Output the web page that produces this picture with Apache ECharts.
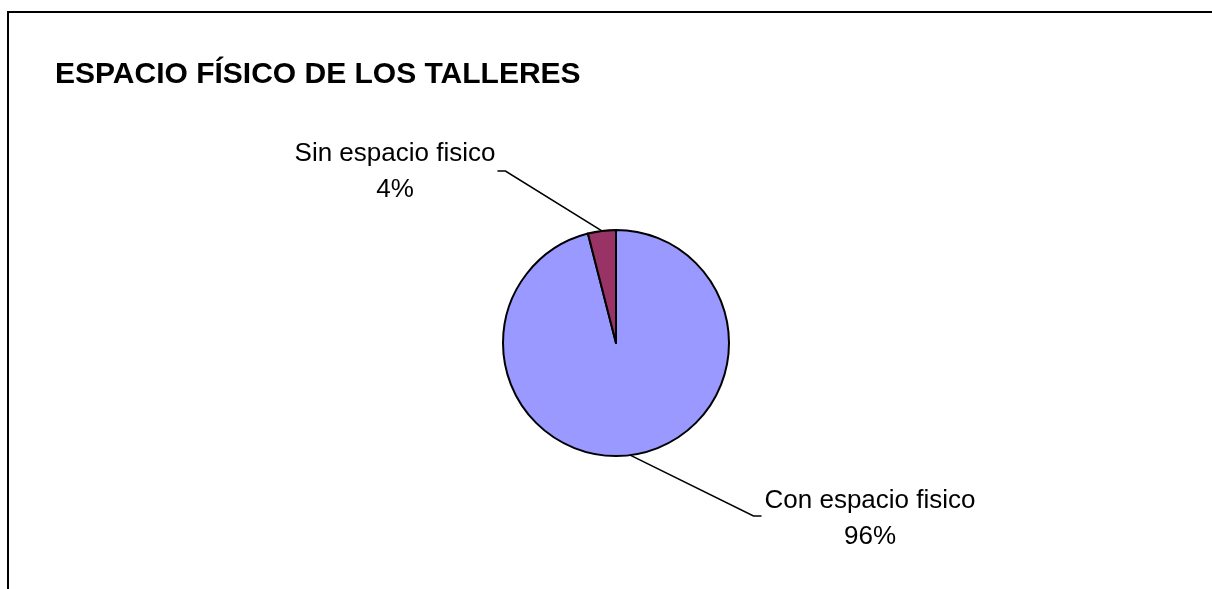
<!DOCTYPE html>
<html>
<head>
<meta charset="utf-8">
<script src="https://cdn.jsdelivr.net/npm/echarts@6/dist/echarts.min.js"></script>
<style>
html,body{margin:0;padding:0;background:#fff;}
#chart{width:1212px;height:589px;}
</style>
</head>
<body>
<div id="chart"></div>
<script>
// ---- data ----
var titleText = 'ESPACIO FÍSICO DE LOS TALLERES';
var categories = ['Con espacio fisico', 'Sin espacio fisico'];
var values = [96, 4];
var colors = ['#9999FF', '#993366'];

// ---- layout ----
var pieCenter = [616, 343];
var pieRadius = 113;
var labelCenters = [[870, 519], [395, 172]];
var stubLen = 8;

var chart = echarts.init(document.getElementById('chart'), null, {renderer: 'canvas'});

var total = values.reduce(function (a, b) { return a + b; }, 0);
function edgePoint(idx) {
  var before = 0;
  for (var i = 0; i < idx; i++) before += values[i];
  var mid = 90 - (before + values[idx] / 2) / total * 360;
  var rad = mid * Math.PI / 180;
  return [pieCenter[0] + pieRadius * Math.cos(rad), pieCenter[1] - pieRadius * Math.sin(rad)];
}

var option = {
  backgroundColor: '#ffffff',
  animation: false,
  title: {
    text: titleText,
    left: 55,
    top: 60,
    padding: 0,
    textStyle: {
      fontFamily: 'Liberation Sans, Arial, sans-serif',
      fontSize: 30,
      fontWeight: 'bold',
      color: '#000000'
    }
  },
  graphic: [{
    type: 'polyline',
    shape: {points: [[8, 700], [8, 12], [1300, 12]]},
    style: {stroke: '#000000', lineWidth: 2, fill: null},
    silent: true
  }],
  series: [{
    type: 'pie',
    center: pieCenter,
    radius: pieRadius,
    startAngle: 90,
    clockwise: true,
    data: categories.map(function (c, i) {
      return {name: c, value: values[i], itemStyle: {color: colors[i]}};
    }),
    itemStyle: {borderColor: '#000000', borderWidth: 2},
    label: {
      show: true,
      position: 'outside',
      formatter: '{b}\n{d}%',
      fontFamily: 'Liberation Sans, Arial, sans-serif',
      fontSize: 26,
      lineHeight: 36,
      color: '#000000',
      align: 'center'
    },
    labelLine: {
      show: true,
      lineStyle: {color: '#000000', width: 1.6}
    },
    emphasis: {disabled: true},
    labelLayout: function (params) {
      var i = params.dataIndex;
      var c = labelCenters[i];
      var w = params.labelRect.width;
      var start = edgePoint(i);
      var pts;
      if (start[0] < c[0]) {
        var left = c[0] - w / 2 - 3;
        pts = [start, [left - stubLen, c[1] - 3], [left, c[1] - 3]];
      } else {
        var right = c[0] + w / 2 + 2;
        pts = [start, [right + stubLen, c[1] - 1], [right, c[1] - 1]];
      }
      return {
        x: c[0],
        y: c[1],
        align: 'center',
        verticalAlign: 'middle',
        labelLinePoints: pts
      };
    }
  }]
};
chart.setOption(option);
</script>
</body>
</html>
